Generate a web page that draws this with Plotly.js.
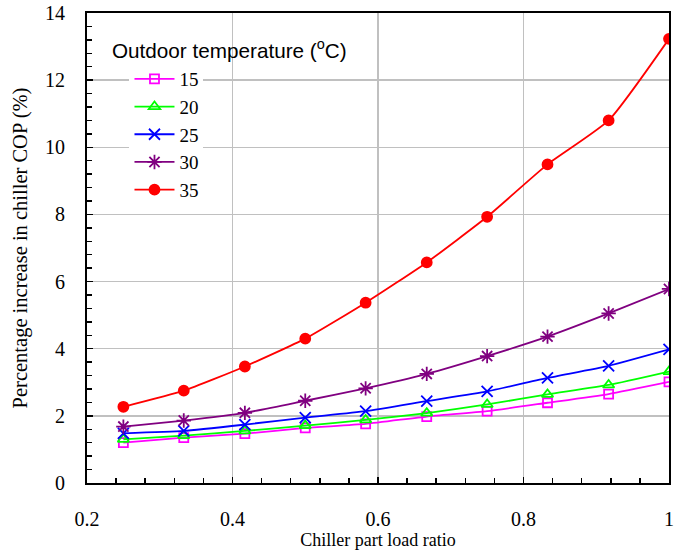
<!DOCTYPE html>
<html>
<head>
<meta charset="utf-8">
<script src="https://cdn.plot.ly/plotly-3.0.1.min.js"></script>
<style>html,body{margin:0;padding:0;background:#fff;}#chart{width:683px;height:557px;}</style>
</head>
<body>
<div id="chart"></div>
<script>
const loadRatio = [0.25, 0.333, 0.417, 0.5, 0.583, 0.667, 0.75, 0.833, 0.917, 1.0];
const seriesNames = ["15", "20", "25", "30", "35"];
const t15 = [1.20, 1.35, 1.47, 1.64, 1.76, 1.98, 2.14, 2.39, 2.65, 3.01];
const t20 = [1.30, 1.41, 1.55, 1.71, 1.88, 2.08, 2.34, 2.64, 2.92, 3.32];
const t25 = [1.48, 1.55, 1.74, 1.95, 2.14, 2.44, 2.73, 3.13, 3.49, 3.98];
const t30 = [1.68, 1.86, 2.09, 2.45, 2.82, 3.25, 3.78, 4.36, 5.05, 5.78];
const t35 = [2.27, 2.75, 3.47, 4.30, 5.37, 6.57, 7.93, 9.49, 10.80, 13.23];
const xTicks = [0.2, 0.4, 0.6, 0.8, 1];
const xTickLabels = ["0.2", "0.4", "0.6", "0.8", "1"];
const yTicks = [0, 2, 4, 6, 8, 10, 12, 14];
const yTickLabels = ["0", "2", "4", "6", "8", "10", "12", "14"];

const colors = ["#ff00ff", "#00ff00", "#0000ff", "#800080", "#ff0000"];
const symbols = ["square-open", "triangle-up-open", "x-thin-open", "asterisk-open", "circle"];
const sizes = [9, 10, 11, 12, 10];
const allY = [t15, t20, t25, t30, t35];

const traces = allY.map((ys, i) => ({
  x: loadRatio, y: ys, name: seriesNames[i], type: "scatter", mode: "lines+markers",
  line: {color: colors[i], width: 1.8, shape: "spline", smoothing: 0.5},
  marker: {symbol: symbols[i], size: sizes[i], color: colors[i], line: {color: colors[i], width: 1.8}}
}));

const serif = "Liberation Serif, Times New Roman, serif";
const layout = {
  width: 683, height: 557,
  margin: {l: 87, r: 14, t: 13, b: 74},
  paper_bgcolor: "#fff", plot_bgcolor: "#fff",
  showlegend: true,
  legend: {x: 0.073, y: 0.9, xanchor: "left", yanchor: "top", bgcolor: "#fff",
    font: {family: serif, size: 19, color: "#000"}, tracegroupgap: 0, itemwidth: 40},
  xaxis: {range: [0.2, 1.0], tickvals: xTicks, ticktext: xTickLabels,
    showline: true, mirror: true, linecolor: "#000", linewidth: 2,
    showgrid: true, gridcolor: "#c0c0c0", gridwidth: 1.5,
    ticks: "inside", ticklen: 6, tickcolor: "#000", tickwidth: 1.5,
    minor: {dtick: 0.04, tick0: 0.2, ticks: "inside", ticklen: 5, tickcolor: "#000", tickwidth: 1.5, showgrid: false},
    ticklabelstandoff: 17, zeroline: false,
    tickfont: {family: serif, size: 20, color: "#000"},
    title: {text: "Chiller part load ratio", font: {family: serif, size: 18, color: "#000"}, standoff: 2}},
  yaxis: {range: [0, 14], tickvals: yTicks, ticktext: yTickLabels,
    showline: true, mirror: true, linecolor: "#000", linewidth: 2,
    showgrid: true, gridcolor: "#c0c0c0", gridwidth: 1.5,
    ticks: "inside", ticklen: 6, tickcolor: "#000", tickwidth: 1.5,
    minor: {dtick: 0.4, tick0: 0, ticks: "inside", ticklen: 5, tickcolor: "#000", tickwidth: 1.5, showgrid: false},
    ticklabelstandoff: 16, zeroline: false,
    tickfont: {family: serif, size: 20, color: "#000"},
    title: {text: "Percentage increase in chiller COP (%)", font: {family: serif, size: 20.5, color: "#000"}, standoff: 12}},
  annotations: [{xref: "paper", yref: "paper", x: 0.04, y: 0.923, xanchor: "left", yanchor: "middle",
    text: "Outdoor temperature (<sup>o</sup>C)", showarrow: false,
    font: {family: "Liberation Sans, Arial, sans-serif", size: 20.7, color: "#000"}}]
};
Plotly.newPlot("chart", traces, layout, {displayModeBar: false, staticPlot: true});
</script>
</body>
</html>
